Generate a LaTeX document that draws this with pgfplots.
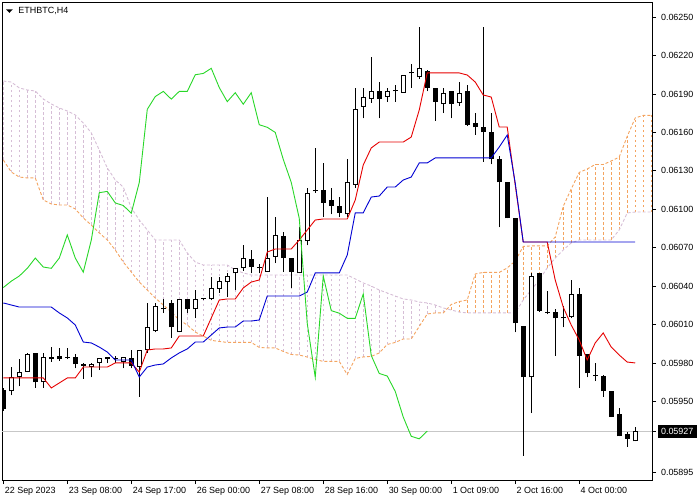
\documentclass[border=0pt]{standalone}
\usepackage{fontspec}
\setmainfont{Liberation Sans}
\usepackage{pgfplots}
\usepackage{pgfplotstable}
\pgfplotsset{compat=1.18}
\definecolor{thistle}{RGB}{214,190,214}
\definecolor{sandy}{RGB}{244,164,96}
\definecolor{tenkan}{RGB}{230,0,0}
\definecolor{kijun}{RGB}{0,0,210}
\definecolor{chikou}{RGB}{40,215,40}

\pgfplotstableread{
i o h l c
1 0.05958 0.05977 0.05955 0.05969
2 0.05969 0.05983 0.05962 0.05973
3 0.05973 0.05988 0.05973 0.05987
5 0.05965 0.05988 0.05961 0.05985
11 0.05977 0.05980 0.05969 0.05979
12 0.05980 0.05984 0.05975 0.05984
15 0.05981 0.05985 0.05976 0.05985
17 0.05977 0.05990 0.05954 0.05990
18 0.05990 0.06027 0.05988 0.06008
19 0.06005 0.06027 0.06004 0.06025
22 0.06004 0.06030 0.06004 0.06030
24 0.06022 0.06037 0.06015 0.06030
26 0.06030 0.06047 0.06029 0.06039
27 0.06038 0.06047 0.06035 0.06044
28 0.06043 0.06050 0.06032 0.06048
29 0.06050 0.06054 0.06037 0.06054
30 0.06054 0.06072 0.06052 0.06062
33 0.06051 0.06110 0.06051 0.06062
34 0.06063 0.06094 0.06058 0.06080
37 0.06050 0.06086 0.06050 0.06076
38 0.06075 0.06117 0.06072 0.06113
43 0.06096 0.06139 0.06094 0.06121
44 0.06119 0.06195 0.06117 0.06178
45 0.06180 0.06195 0.06171 0.06188
46 0.06186 0.06219 0.06183 0.06192
48 0.06188 0.06195 0.06184 0.06192
50 0.06191 0.06205 0.06191 0.06205
52 0.06203 0.06242 0.06202 0.06210
55 0.06182 0.06195 0.06175 0.06191
57 0.06183 0.06199 0.06181 0.06191
66 0.05969 0.06050 0.05941 0.06048
71 0.06016 0.06045 0.06015 0.06034
79 0.05919 0.05930 0.05919 0.05927
}\bull

\pgfplotstableread{
i o h l c
0 0.05959 0.05961 0.05943 0.05944
4 0.05988 0.05988 0.05961 0.05965
6 0.05985 0.05993 0.05981 0.05983
7 0.05986 0.05992 0.05982 0.05983
8 0.059848 0.05992 0.05983 0.05984
9 0.05985 0.05987 0.05976 0.05979
10 0.05979 0.05980 0.05968 0.05978
13 0.05985 0.05985 0.05980 0.05983
14 0.059838 0.05986 0.05980 0.05983
16 0.05984 0.05990 0.05976 0.05978
20 0.060228 0.06030 0.06019 0.06022
21 0.06027 0.06029 0.06000 0.06008
23 0.06030 0.06030 0.06019 0.06022
25 0.060308 0.06031 0.06029 0.06030
31 0.06061 0.06068 0.06050 0.06055
32 0.060548 0.06057 0.06050 0.06054
35 0.06079 0.06082 0.06051 0.06062
36 0.06062 0.06062 0.06039 0.06051
39 0.061148 0.06148 0.06113 0.06114
40 0.06115 0.06136 0.06094 0.06105
41 0.06107 0.06117 0.06096 0.06103
42 0.06103 0.06110 0.06094 0.06097
47 0.06192 0.06199 0.06171 0.06186
49 0.061928 0.06197 0.06184 0.06192
51 0.062068 0.06213 0.06195 0.06206
53 0.06208 0.06209 0.06192 0.06195
54 0.06195 0.06195 0.06169 0.06184
56 0.06192 0.06192 0.06171 0.06182
58 0.06192 0.06197 0.06165 0.06166
59 0.06167 0.06175 0.06158 0.06164
60 0.06164 0.06242 0.06137 0.06160
61 0.06160 0.06175 0.06135 0.06139
62 0.06139 0.06142 0.06086 0.06121
63 0.06121 0.06121 0.06093 0.06093
64 0.06093 0.06093 0.06004 0.06011
65 0.06009 0.06009 0.05908 0.05969
67 0.06050 0.06050 0.06020 0.06021
68 0.060198 0.06036 0.06018 0.06019
69 0.06020 0.06022 0.05986 0.06015
70 0.060158 0.06025 0.06008 0.06015
72 0.06034 0.06039 0.05961 0.05986
73 0.05987 0.05987 0.05969 0.05972
74 0.059708 0.05980 0.05966 0.05970
75 0.05970 0.05971 0.05954 0.05958
76 0.05958 0.05958 0.05938 0.05938
77 0.05940 0.05945 0.05923 0.05923
78 0.05925 0.05926 0.05915 0.05921
}\bear

\pgfplotstableread{
i a b
0 0.061385 0.062001
1 0.061291 0.061993
2 0.061252 0.061947
3 0.061245 0.061931
4 0.061245 0.061923
5 0.061073 0.061861
6 0.061042 0.061822
7 0.061034 0.061791
8 0.061034 0.061767
9 0.061003 0.061736
10 0.060933 0.061674
11 0.060878 0.061596
12 0.060816 0.061463
13 0.060761 0.061323
14 0.060683 0.061229
15 0.060589 0.061174
16 0.060511 0.061011
17 0.060433 0.060917
18 0.060371 0.060839
19 0.060309 0.060761
20 0.060254 0.060761
21 0.060199 0.060761
22 0.060137 0.060761
23 0.060098 0.060660
24 0.060043 0.060589
25 0.060012 0.060566
26 0.059978 0.060566
27 0.059970 0.060566
28 0.059962 0.060566
29 0.059962 0.060527
30 0.059962 0.060504
31 0.059962 0.060488
32 0.059923 0.060488
33 0.059919 0.060488
34 0.059919 0.060488
35 0.059892 0.060488
36 0.059868 0.060488
37 0.059864 0.060488
38 0.059848 0.060488
39 0.059829 0.060488
40 0.059814 0.060488
41 0.059814 0.060488
42 0.059814 0.060488
43 0.059712 0.060488
44 0.059837 0.060457
45 0.059849 0.060426
46 0.059853 0.060402
47 0.059880 0.060371
48 0.059946 0.060348
49 0.059962 0.060324
50 0.059989 0.060301
51 0.059989 0.060293
52 0.060087 0.060277
53 0.060184 0.060270
54 0.060192 0.060254
55 0.060192 0.060231
56 0.060258 0.060215
57 0.060281 0.060199
58 0.060293 0.060192
59 0.060496 0.060192
60 0.060508 0.060192
61 0.060508 0.060192
62 0.060508 0.060192
63 0.060543 0.060192
64 0.060597 0.060192
65 0.060711 0.060293
66 0.060715 0.060371
67 0.060715 0.060449
68 0.060715 0.060543
69 0.060785 0.060621
70 0.061023 0.060683
71 0.061159 0.060738
72 0.061288 0.060761
73 0.061315 0.060761
74 0.061350 0.060761
75 0.061350 0.060761
76 0.061377 0.060761
77 0.061408 0.060839
78 0.061569 0.060972
79 0.061713 0.060979
80 0.061733 0.060979
81 0.061733 0.060979
}\cloud

\pgfplotstableread{
i t k
0 0.059685 0.060270
1 0.059685 0.060254
2 0.059685 0.060238
3 0.059685 0.060238
4 0.059685 0.060238
5 0.059685 0.060238
6 0.059607 0.060238
7 0.059646 0.060192
8 0.059685 0.060153
9 0.059685 0.060098
10 0.059770 0.059965
11 0.059770 0.059958
12 0.059770 0.059926
13 0.059770 0.059887
14 0.059802 0.059825
15 0.059802 0.059825
16 0.059802 0.059825
17 0.059731 0.059692
18 0.059903 0.059770
19 0.059911 0.059786
20 0.059911 0.059794
21 0.059919 0.059841
22 0.060012 0.059880
23 0.060012 0.059911
24 0.060012 0.059965
25 0.060012 0.059965
26 0.060153 0.060020
27 0.060293 0.060075
28 0.060301 0.060082
29 0.060301 0.060082
30 0.060387 0.060129
31 0.060433 0.060129
32 0.060449 0.060137
33 0.060667 0.060324
34 0.060691 0.060324
35 0.060691 0.060324
36 0.060691 0.060324
37 0.060761 0.060324
38 0.060839 0.060355
39 0.060917 0.060504
40 0.060925 0.060504
41 0.060925 0.060504
42 0.060925 0.060504
43 0.060925 0.060644
44 0.061073 0.060972
45 0.061346 0.060972
46 0.061479 0.061096
47 0.061525 0.061104
48 0.061525 0.061174
49 0.061525 0.061174
50 0.061525 0.061229
51 0.061564 0.061252
52 0.061775 0.061362
53 0.062064 0.061362
54 0.062064 0.061401
55 0.062064 0.061401
56 0.062064 0.061401
57 0.062064 0.061401
58 0.062048 0.061401
59 0.061993 0.061401
60 0.061892 0.061401
61 0.061876 0.061401
62 0.061642 0.061486
63 0.061642 0.061580
64 0.061190 0.061206
65 0.060745 0.060745
66 0.060745 0.060745
67 0.060745 0.060745
68 0.060745 0.060745
69 0.060449 0.060745
70 0.060238 0.060745
71 0.060098 0.060745
72 0.059981 0.060745
73 0.059825 0.060745
74 0.059958 0.060745
75 0.060036 0.060745
76 0.059926 0.060745
77 0.059864 0.060745
78 0.059809 0.060745
79 0.059802 0.060745
}\tk

\pgfplotstableread{
i g
0 0.06039
1 0.06044
2 0.06048
3 0.06054
4 0.06062
5 0.06055
6 0.06054
7 0.06062
8 0.06080
9 0.06062
10 0.06051
11 0.06076
12 0.06113
13 0.06114
14 0.06105
15 0.06103
16 0.06097
17 0.06121
18 0.06178
19 0.06188
20 0.06192
21 0.06186
22 0.06192
23 0.06192
24 0.06205
25 0.06206
26 0.06210
27 0.06195
28 0.06184
29 0.06191
30 0.06182
31 0.06191
32 0.06166
33 0.06164
34 0.06160
35 0.06139
36 0.06121
37 0.06093
38 0.06011
39 0.05969
40 0.06048
41 0.06021
42 0.06019
43 0.06015
44 0.06015
45 0.06034
46 0.05986
47 0.05972
48 0.05970
49 0.05958
50 0.05938
51 0.05923
52 0.05921
53 0.05927
}\chik

\begin{document}
\begin{tikzpicture}
\begin{axis}[
  scale only axis, width=649.5bp, height=477.5bp,
  xmin=-0.1, xmax=81.1, ymin=0.058889, ymax=0.0626135,
  axis line style={black, line width=0.8bp},
  tick align=outside, major tick length=4bp,
  tick style={black, line width=0.8bp},
  xtick pos=left, ytick pos=right, yticklabel pos=right,
  xtick={0,8,...,72},
  xticklabels={22 Sep 2023,23 Sep 08:00,24 Sep 17:00,26 Sep 00:00,27 Sep 08:00,28 Sep 16:00,30 Sep 00:00,1 Oct 09:00,2 Oct 16:00,4 Oct 00:00},
  ytick={0.05895,0.05950,0.05980,0.06010,0.06040,0.06070,0.06100,0.06130,0.06160,0.06190,0.06220,0.06250},
  yticklabels={0.05895,0.05950,0.05980,0.06010,0.06040,0.06070,0.06100,0.06130,0.06160,0.06190,0.06220,0.06250},
  scaled y ticks=false,
  extra y ticks={0.05927},
  extra y tick labels={0.05927},
  extra y tick style={grid=major, major grid style={color=black!22, line width=0.8bp}, tick label style={fill=black, text=white}},
  tick label style={font=\fontsize{9}{10}\selectfont},
  xticklabel style={anchor=north west, xshift=-2bp},
  yticklabel style={anchor=west, xshift=1.5bp},
]
% cloud hatching
\addplot[color=thistle, draw=thistle, mark=none, line width=0.8bp, dash pattern=on 2.5bp off 2.5bp, restrict x to domain=0:55,
  quiver={u=0, v={\thisrow{b}-\thisrow{a}}, every arrow/.append style={draw=thistle}}]
  table[x=i, y=a] {\cloud};
\addplot[color=sandy, draw=sandy, mark=none, line width=0.8bp, dash pattern=on 2.5bp off 2.5bp, restrict x to domain=56:81,
  quiver={u=0, v={\thisrow{a}-\thisrow{b}}, every arrow/.append style={draw=sandy}}]
  table[x=i, y=b] {\cloud};
% cloud boundaries
\addplot[sandy, line width=0.9bp, dash pattern=on 3bp off 2bp, mark=none] table[x=i, y=a] {\cloud};
\addplot[thistle, line width=0.9bp, dash pattern=on 3bp off 2bp, mark=none] table[x=i, y=b] {\cloud};
% wicks
\addplot[black, mark=none, line width=0.9bp, quiver={u=0, v={\thisrow{h}-\thisrow{l}}}]
  table[x=i, y=l] {\bull};
\addplot[black, mark=none, line width=0.9bp, quiver={u=0, v={\thisrow{h}-\thisrow{l}}}]
  table[x=i, y=l] {\bear};
% bodies
\addplot[black, mark=none, line width=5bp, quiver={u=0, v={\thisrow{o}-\thisrow{c}}}]
  table[x=i, y=c] {\bear};
\addplot[black, mark=none, line width=5bp, quiver={u=0, v={\thisrow{c}-\thisrow{o}}}]
  table[x=i, y=o] {\bull};
\addplot[white, mark=none, line width=3bp, shorten <=1bp, shorten >=1bp, quiver={u=0, v={\thisrow{c}-\thisrow{o}}}]
  table[x=i, y=o] {\bull};
% ichimoku lines
\addplot[tenkan, line width=0.9bp, mark=none] table[x=i, y=t] {\tk};
\addplot[kijun, line width=0.9bp, mark=none] table[x=i, y=k] {\tk};
\addplot[chikou, line width=0.9bp, mark=none] table[x=i, y=g] {\chik};
\end{axis}
\fill ([shift={(3.5bp,-6.8bp)}]current axis.north west) -- ++(6.8bp,0) -- ++(-3.4bp,-3.6bp) -- cycle;
\node[anchor=base west, font=\fontsize{9}{10}\selectfont, inner sep=0pt] at ([shift={(15.8bp,-11.5bp)}]current axis.north west) {ETHBTC,H4};
\pgfresetboundingbox
\path[use as bounding box] ([shift={(-2.5bp,-20bp)}]current axis.south west) rectangle ([shift={(48bp,2.5bp)}]current axis.north east);
\end{tikzpicture}
\end{document}
